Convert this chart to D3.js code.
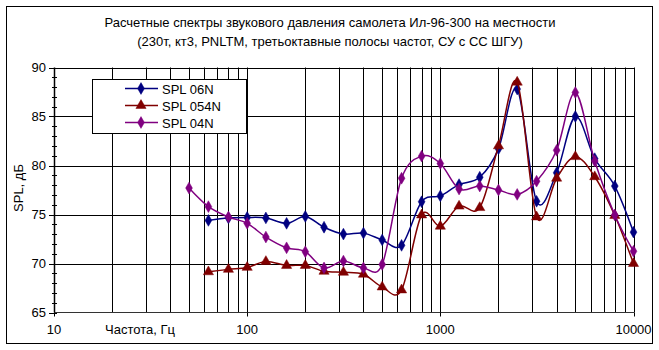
<!DOCTYPE html>
<html>
<head>
<meta charset="utf-8">
<script src="https://cdnjs.cloudflare.com/ajax/libs/d3/7.8.5/d3.min.js"></script>
<style>
    body { margin: 0; background: #fff; }
    text { font-family: "Liberation Sans", Arial, sans-serif; fill: #000; }
</style>
</head>
<body>
<div id="chart-div"></div>
<script>
// third-octave band centre frequencies, Hz
var freqs = [50, 63, 80, 100, 125, 160, 200, 250, 315, 400, 500, 630, 800,
    1000, 1250, 1600, 2000, 2500, 3150, 4000, 5000, 6300, 8000, 10000];

// SPL, dB (null where the band is not computed)
var spl06N = [null, 74.4, 74.65, 74.7, 74.65, 74.1, 74.8, 73.7, 73.0, 73.1, 72.4, 71.85,
    76.3, 76.9, 78.05, 78.8, 81.7, 87.8, 76.35, 79.25, 85.0, 80.7, 77.9, 73.2];
var spl054N = [null, 69.15, 69.4, 69.6, 70.2, 69.8, 69.8, 69.2, 69.1, 68.9, 67.6, 67.3,
    74.95, 73.8, 75.85, 75.7, 82.0, 88.5, 74.75, 78.7, 80.9, 78.85, 74.9, 70.0];
var spl04N = [77.7, 75.8, 74.75, 74.1, 72.7, 71.6, 71.2, 69.55, 70.25, 69.55, 69.9, 78.7,
    80.95, 80.2, 77.6, 77.9, 77.5, 77.05, 78.4, 81.55, 87.45, 80.45, 74.95, 71.25];

var seriesNames = ['SPL 06N', 'SPL 054N', 'SPL 04N'];
var seriesColors = ['#000080', '#800000', '#800080'];
var seriesShapes = ['diamond', 'triangle', 'diamond'];

var titleLines = [
    'Расчетные спектры звукового давления самолета Ил-96-300 на местности',
    '(230т, кт3, PNLTM, третьоктавные полосы частот, СУ с СС ШГУ)'
];
var xTicks = [10, 100, 1000, 10000];
var yTicks = [65, 70, 75, 80, 85, 90];

(function () {
    'use strict';

    var width = 659;
    var height = 350;
    var plot = { left: 54, right: 633.5, top: 67.5, bottom: 312.5 };

    var svg = d3.select('#chart-div').append('svg')
        .attr('width', width)
        .attr('height', height);

    svg.append('rect')
        .attr('x', 6.5).attr('y', 6.5)
        .attr('width', 646).attr('height', 337)
        .style('fill', 'white').style('stroke', 'black');

    var x = d3.scaleLog().domain([10, 10000]).range([plot.left, plot.right]);
    var y = d3.scaleLinear().domain([65, 90]).range([plot.bottom, plot.top]);

    // title
    svg.selectAll('text.title').data(titleLines).enter().append('text')
        .attr('class', 'title')
        .attr('x', 330)
        .attr('y', function (d, i) { return 27 + i * 19; })
        .attr('text-anchor', 'middle')
        .style('font-size', '13px')
        .text(function (d) { return d; });

    // grid
    var grid = svg.append('g');
    var minor = [];
    for (var dec = 10; dec < 10000; dec *= 10) {
        for (var m = 2; m <= 10; m++) { minor.push(dec * m); }
    }
    grid.selectAll('line.v').data(minor).enter().append('line')
        .attr('x1', function (d) { return Math.round(x(d)) + 0.5; })
        .attr('x2', function (d) { return Math.round(x(d)) + 0.5; })
        .attr('y1', plot.top).attr('y2', plot.bottom)
        .style('stroke', 'black');
    grid.selectAll('line.h').data(yTicks.slice(1)).enter().append('line')
        .attr('x1', plot.left).attr('x2', plot.right + 0.5)
        .attr('y1', function (d) { return Math.round(y(d)) + 0.5; })
        .attr('y2', function (d) { return Math.round(y(d)) + 0.5; })
        .style('stroke', 'black');

    // y axis with minor ticks every 1 dB
    var yAxis = svg.append('g');
    yAxis.append('line')
        .attr('x1', plot.left + 0.5).attr('x2', plot.left + 0.5)
        .attr('y1', plot.top).attr('y2', plot.bottom)
        .style('stroke', 'black').style('stroke-width', 1.5);
    yAxis.selectAll('line.minor').data(d3.range(65, 91)).enter().append('line')
        .attr('x1', plot.left - 2).attr('x2', plot.left + 3)
        .attr('y1', function (d) { return Math.round(y(d)) + 0.5; })
        .attr('y2', function (d) { return Math.round(y(d)) + 0.5; })
        .style('stroke', 'black');
    yAxis.selectAll('line.major').data(yTicks).enter().append('line')
        .attr('x1', plot.left - 5).attr('x2', plot.left + 3)
        .attr('y1', function (d) { return Math.round(y(d)) + 0.5; })
        .attr('y2', function (d) { return Math.round(y(d)) + 0.5; })
        .style('stroke', 'black');
    yAxis.selectAll('text').data(yTicks).enter().append('text')
        .attr('x', plot.left - 8)
        .attr('y', function (d) { return y(d) + 4.5; })
        .attr('text-anchor', 'end')
        .style('font-size', '13px')
        .text(function (d) { return d; });

    // x axis
    var xAxis = svg.append('g');
    xAxis.append('line')
        .attr('x1', plot.left).attr('x2', plot.right + 0.5)
        .attr('y1', plot.bottom).attr('y2', plot.bottom)
        .style('stroke', '#333');
    xAxis.selectAll('line.tick').data(xTicks).enter().append('line')
        .attr('x1', function (d) { return Math.round(x(d)) + 0.5; })
        .attr('x2', function (d) { return Math.round(x(d)) + 0.5; })
        .attr('y1', plot.bottom).attr('y2', plot.bottom + 4)
        .style('stroke', 'black');
    xAxis.selectAll('text').data(xTicks).enter().append('text')
        .attr('x', function (d) { return x(d); })
        .attr('y', 334)
        .attr('text-anchor', 'middle')
        .style('font-size', '13px')
        .text(function (d) { return d; });

    svg.append('text')
        .attr('x', 105).attr('y', 334)
        .style('font-size', '13px')
        .text('Частота, Гц');

    svg.append('text')
        .attr('transform', 'translate(23,188) rotate(-90)')
        .attr('text-anchor', 'middle')
        .style('font-size', '13px')
        .text('SPL, дБ');

    // series
    var allSeries = [spl06N, spl054N, spl04N];
    var line = d3.line()
        .defined(function (d) { return d.v !== null; })
        .x(function (d) { return x(d.f); })
        .y(function (d) { return y(d.v); })
        .curve(d3.curveCatmullRom.alpha(0));

    function marker (sel, shape, color) {
        if (shape === 'triangle') {
            sel.attr('d', d3.symbol().type(d3.symbolTriangle).size(45));
        } else {
            sel.attr('d', d3.symbol().type(d3.symbolDiamond).size(40));
        }
        sel.style('fill', color).style('stroke', color).style('stroke-width', 0.5);
    }

    allSeries.forEach(function (vals, si) {
        var pts = freqs.map(function (f, i) { return { f: f, v: vals[i] }; })
            .filter(function (d) { return d.v !== null; });
        var g = svg.append('g');
        g.append('path')
            .attr('d', line(pts))
            .style('fill', 'none')
            .style('stroke', seriesColors[si])
            .style('stroke-width', 1.5);
        g.selectAll('path.pt').data(pts).enter().append('path')
            .attr('transform', function (d) {
                var dy = seriesShapes[si] === 'triangle' ? 0 : 0;
                return 'translate(' + x(d.f) + ',' + (y(d.v) + dy) + ')';
            })
            .call(marker, seriesShapes[si], seriesColors[si]);
    });

    // legend
    var legend = svg.append('g');
    legend.append('rect')
        .attr('x', 92.5).attr('y', 79.5)
        .attr('width', 154).attr('height', 54)
        .style('fill', 'white').style('stroke', 'black');
    seriesNames.forEach(function (name, i) {
        var ly = 88.5 + i * 17;
        legend.append('line')
            .attr('x1', 125).attr('x2', 158)
            .attr('y1', ly).attr('y2', ly)
            .style('stroke', seriesColors[i]).style('stroke-width', 1.5);
        legend.append('path')
            .attr('transform', 'translate(141,' + ly + ')')
            .call(marker, seriesShapes[i], seriesColors[i]);
        legend.append('text')
            .attr('x', 162).attr('y', ly + 5)
            .style('font-size', '13px')
            .text(name);
    });
})();
</script>
</body>
</html>
